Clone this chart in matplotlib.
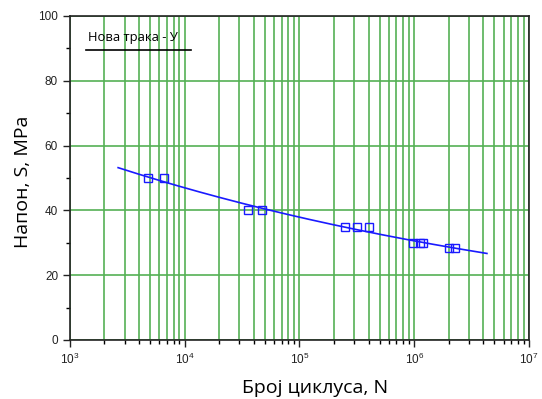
import matplotlib
matplotlib.use('Agg')
import matplotlib.pyplot as plt
import numpy as np
from matplotlib.ticker import LogLocator, MultipleLocator, NullFormatter

plt.rcParams['font.family'] = ['Open Sans', 'DejaVu Sans']

# измерене тачке (број циклуса, напон)
cycles = [4800, 6600, 35500, 47600, 250000, 316000, 406000,
          980000, 1120000, 1200000, 2000000, 2280000]
stress = [50, 50, 40, 40, 35, 35, 35, 30, 30, 30, 28.3, 28.3]

# опсег линије тренда
fit_range = [2630, 4.3e6]
legend_text = 'Нова трака - У'
green = '#55b055'
blue = '#1a1aff'

fig = plt.figure(figsize=(5.42, 3.99), dpi=100)
ax = fig.add_axes([0.129, 0.148, 0.847, 0.812])

# степена крива S = A * N^b, у лог-лог простору
b, logA = np.polyfit(np.log10(cycles), np.log10(stress), 1)
nn = np.logspace(np.log10(fit_range[0]), np.log10(fit_range[1]), 200)
ax.plot(nn, 10**logA * nn**b, color=blue, lw=1.2, zorder=3)
ax.plot(cycles, stress, 's', ms=5.5, mfc='none', mec=blue, mew=1.0, zorder=4)

ax.set_xscale('log')
ax.set_xlim(1e3, 1e7)
ax.set_ylim(0, 100)
ax.xaxis.set_major_locator(LogLocator(base=10, numticks=10))
ax.xaxis.set_minor_locator(LogLocator(base=10, subs=np.arange(2, 10), numticks=10))
ax.xaxis.set_minor_formatter(NullFormatter())
ax.yaxis.set_major_locator(MultipleLocator(20))
ax.yaxis.set_minor_locator(MultipleLocator(10))

ax.grid(True, which='both', axis='x', color=green, lw=1.2, zorder=1)
ax.grid(True, which='major', axis='y', color=green, lw=1.2, zorder=1)
ax.set_axisbelow(True)

ax.tick_params(which='major', direction='out', length=5, width=1, labelsize=8.5,
               colors='#222222')
ax.tick_params(which='minor', direction='out', length=3, width=1)
for lab in ax.get_xticklabels() + ax.get_yticklabels():
    lab.set_family(['Liberation Sans', 'DejaVu Sans'])
for s in ax.spines.values():
    s.set_color('#222222')
    s.set_linewidth(1.2)

ax.set_xlabel('Број циклуса, N', fontsize=14)
ax.set_ylabel('Напон, S, MPa', fontsize=14)
ax.xaxis.set_label_coords(0.534, -0.12)
ax.yaxis.set_label_coords(-0.083, 0.488)

# легенда као у оригиналу: текст изнад црне линије
ax.text(0.039, 0.935, legend_text, transform=ax.transAxes, fontsize=9.4,
        va='center', ha='left')
ax.plot([0.035, 0.264], [0.895, 0.895], transform=ax.transAxes, color='black',
        lw=1.2, clip_on=False)

plt.savefig('out.png', dpi=100)
